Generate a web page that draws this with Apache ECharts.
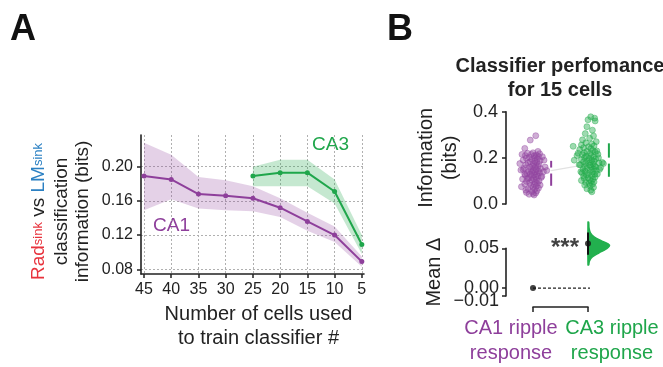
<!DOCTYPE html>
<html><head><meta charset="utf-8">
<script src="https://cdn.jsdelivr.net/npm/echarts@6/dist/echarts.min.js"></script>
<style>html,body{margin:0;padding:0;background:#fff}#c{width:663px;height:367px}</style>
</head><body><div id="c"></div>
<script>
// ---------- Panel A data ----------
const cellCounts = [45, 40, 35, 30, 25, 20, 15, 10, 5];
const ca1Mean  = [0.189, 0.185, 0.168, 0.166, 0.163, 0.152, 0.136, 0.120, 0.089];
const ca1Upper = [0.228, 0.214, 0.188, 0.184, 0.177, 0.163, 0.146, 0.130, 0.095];
const ca1Lower = [0.149, 0.162, 0.151, 0.149, 0.148, 0.141, 0.125, 0.112, 0.083];
const ca3Counts = [25, 20, 15, 10, 5];
const ca3Mean  = [0.189, 0.193, 0.193, 0.171, 0.109];
const ca3Upper = [0.200, 0.208, 0.208, 0.185, 0.120];
const ca3Lower = [0.177, 0.177, 0.177, 0.157, 0.098];
const yTicksA = [0.08, 0.12, 0.16, 0.20];

// ---------- Panel B data (15 cells) ----------
const ca1Values = [
 0.296,0.277,0.241,0.228,0.222,0.220,0.218,0.215,0.212,0.210,
 0.208,0.205,0.203,0.200,0.198,0.196,0.193,0.190,0.188,0.186,
 0.183,0.180,0.178,0.175,0.172,0.170,0.168,0.165,0.163,0.160,
 0.158,0.156,0.153,0.151,0.149,0.147,0.145,0.143,0.141,0.139,
 0.137,0.135,0.132,0.130,0.128,0.126,0.124,0.121,0.119,0.117,
 0.115,0.112,0.110,0.108,0.105,0.103,0.100,0.098,0.095,0.092,
 0.090,0.087,0.085,0.082,0.080,0.077,0.075,0.072,0.069,0.066,
 0.063,0.060,0.057,0.054,0.050,0.048,0.045,0.042,0.039,0.215,
 0.205,0.190,0.175,0.160,0.150,0.140,0.130,0.120,0.110,0.145];
const ca1Jitter = [
 0.05,-0.05,-0.15,0.09,0.00,-0.10,0.12,-0.03,0.06,-0.14,
 0.02,0.10,-0.07,0.04,-0.12,0.08,-0.02,-0.18,0.13,0.03,
 -0.05,0.07,-0.09,0.01,0.11,-0.13,0.05,-0.01,0.09,-0.06,
 0.03,-0.16,0.14,-0.04,0.06,-0.22,0.00,0.10,-0.08,0.04,
 -0.02,0.12,-0.11,0.07,-0.05,0.02,-0.14,0.09,-0.03,0.05,
 0.15,-0.08,0.01,-0.19,0.06,-0.02,0.11,-0.12,0.04,-0.06,
 0.08,-0.15,0.02,0.13,-0.04,0.06,-0.21,0.00,0.10,-0.09,
 0.03,-0.13,0.07,-0.02,-0.12,0.05,0.00,-0.07,0.02,-0.20,
 0.17,0.20,-0.24,0.22,-0.18,0.19,-0.15,0.16,-0.10,0.25];
const ca3Values = [
 0.378,0.372,0.365,0.360,0.335,0.320,0.305,0.295,0.285,0.278,
 0.270,0.265,0.260,0.256,0.252,0.248,0.244,0.240,0.236,0.232,
 0.228,0.225,0.222,0.219,0.216,0.213,0.210,0.207,0.204,0.201,
 0.198,0.195,0.193,0.190,0.188,0.185,0.183,0.180,0.178,0.175,
 0.173,0.170,0.168,0.165,0.163,0.160,0.158,0.155,0.152,0.150,
 0.147,0.144,0.141,0.138,0.135,0.132,0.129,0.126,0.123,0.120,
 0.117,0.114,0.111,0.108,0.105,0.102,0.099,0.096,0.093,0.090,
 0.086,0.082,0.078,0.072,0.066,0.060,0.053,0.250,0.230,0.210,
 0.200,0.190,0.180,0.170,0.160,0.150,0.140,0.130,0.220,0.175];
const ca3Jitter = [
 0.05,0.12,0.00,0.13,-0.02,0.08,-0.05,0.10,0.03,-0.10,
 0.15,-0.04,0.07,-0.12,0.11,0.01,-0.08,0.05,-0.15,0.09,
 -0.02,0.13,-0.07,0.04,0.18,-0.10,0.06,-0.03,0.10,-0.06,
 0.02,0.14,-0.12,0.07,-0.01,0.11,-0.08,0.04,0.20,-0.04,
 0.09,-0.14,0.03,0.12,-0.06,0.06,0.23,-0.02,0.10,-0.09,
 0.04,0.15,-0.05,0.08,-0.11,0.01,0.12,-0.03,0.07,-0.08,
 0.13,0.00,-0.07,0.09,0.03,-0.12,0.06,0.11,-0.04,0.02,
 0.08,-0.06,0.04,0.10,-0.02,0.05,0.07,-0.27,0.16,-0.20,
 0.19,-0.25,0.26,-0.16,0.14,0.21,-0.13,0.17,-0.18,0.28];
// gapped summary bars: [low, middle, high]
const ca1Summary = [0.079, 0.145, 0.187];
const ca3Summary = [0.118, 0.188, 0.263];
// mean difference (CA3 - CA1)
const meanDiff = 0.056;
const diffCI = [0.042, 0.070];
const violinValues  = [0.0829,0.0754,0.0691,0.0641,0.0591,0.0541,0.0491,0.0441,0.0391,0.0341,0.0291];
const violinDensity = [0.03,0.05,0.12,0.30,0.65,1.00,0.85,0.50,0.20,0.07,0.03];
const yTicksDiff = [-0.01, 0, 0.05];
const groupLabels = ['CA1 ripple\nresponse', 'CA3 ripple\nresponse'];

// ---------- styling ----------
const FONT = "'Liberation Sans', Arial, Helvetica, sans-serif";
const PURPLE = '#8e3f9b', GREEN = '#1fa64b', INK = '#222';
const GRIDLINE = { show: true, lineStyle: { color: '#b0b0b0', type: [2, 2], width: 1 } };
const AXLINE = { show: true, onZero: false, lineStyle: { color: INK, width: 1.6 } };

const chart = echarts.init(document.getElementById('c'));

function band(xs, lo, hi, color) {
  return { type: 'custom', xAxisIndex: 0, yAxisIndex: 0, silent: true, z: 1, data: [0],
    renderItem: (params, api) => {
      const pts = [];
      xs.forEach((x, i) => pts.push(api.coord([x, hi[i]])));
      for (let i = xs.length - 1; i >= 0; i--) pts.push(api.coord([xs[i], lo[i]]));
      return { type: 'polygon', shape: { points: pts }, style: { fill: color } };
    } };
}

function gapBar(params, api) {
  const x = api.value(0);
  const pLo = api.coord([x, api.value(1)]);
  const pMid = api.coord([x, api.value(2)]);
  const pHi = api.coord([x, api.value(3)]);
  const gap = 3;
  const st = { stroke: api.visual('color'), lineWidth: 2 };
  return { type: 'group', children: [
    { type: 'line', shape: { x1: pHi[0], y1: pHi[1], x2: pMid[0], y2: pMid[1] - gap }, style: st },
    { type: 'line', shape: { x1: pMid[0], y1: pMid[1] + gap, x2: pLo[0], y2: pLo[1] }, style: st }
  ]};
}

const G = { containLabel: false, outerBoundsMode: 'none' };
const option = {
  animation: false,
  backgroundColor: '#fff',
  textStyle: { fontFamily: FONT },
  title: {
    text: 'Classifier perfomance\nfor 15 cells', left: 560, top: 54, textAlign: 'center', padding: 0,
    textStyle: { fontFamily: FONT, fontSize: 20, fontWeight: 'bold', color: INK, lineHeight: 24 }
  },
  grid: [
    { ...G, left: 141, top: 135, width: 223, height: 139 },
    { ...G, left: 533, top: 111.7, width: 55, height: 92.3 },
    { ...G, left: 533, top: 248.3, width: 55, height: 47.7 },
    { ...G, left: 511, top: 248.3, width: 101, height: 47.7 }   // label track for group names
  ],
  xAxis: [
    { gridIndex: 0, type: 'value', inverse: true, min: 4.6, max: 45.55,
      axisLine: AXLINE, axisTick: { customValues: cellCounts, length: 4, lineStyle: { color: INK, width: 1.5 } },
      axisLabel: { customValues: cellCounts, fontSize: 16, color: INK, margin: 8, fontFamily: FONT },
      splitLine: GRIDLINE,
      name: 'Number of cells used\nto train classifier #', nameLocation: 'middle', nameGap: 28,
      nameTextStyle: { fontSize: 20, lineHeight: 24, color: INK, fontFamily: FONT, padding: [0, 0, 0, 12] } },
    { gridIndex: 1, type: 'value', min: 0, max: 1, show: false },
    { gridIndex: 2, type: 'value', min: 0, max: 1, offset: 11,
      axisLine: AXLINE, axisTick: { customValues: [0, 1], length: 5, lineStyle: { color: INK, width: 1.5 } },
      splitLine: { show: false }, axisLabel: { show: false } },
    { gridIndex: 3, type: 'value', min: 0, max: 1, offset: 11,
      axisLine: { show: false }, axisTick: { show: false }, splitLine: { show: false },
      axisLabel: { customValues: [0, 1], showMinLabel: true, showMaxLabel: true, margin: 9,
        formatter: v => v < 0.5 ? '{a|' + groupLabels[0].replace('\n', '}\n{a|') + '}'
                                : '{b|' + groupLabels[1].replace('\n', '}\n{b|') + '}',
        rich: {
          a: { color: PURPLE, fontSize: 20, lineHeight: 25, fontFamily: FONT },
          b: { color: GREEN, fontSize: 20, lineHeight: 25, fontFamily: FONT }
        } } }
  ],
  yAxis: [
    { gridIndex: 0, type: 'value', min: 0.0745, max: 0.237,
      axisLine: AXLINE, axisTick: { customValues: yTicksA, length: 4, lineStyle: { color: INK, width: 1.5 } },
      axisLabel: { customValues: yTicksA, fontSize: 16, color: INK, margin: 8, fontFamily: FONT, formatter: v => v.toFixed(2) },
      splitLine: GRIDLINE,
      name: '{r|Rad}{rs|sink}{k| vs }{b|LM}{bs|sink}\n{k2|classification}\n{k2|information (bits)}',
      nameLocation: 'middle', nameRotate: 90, nameGap: 48,
      nameTextStyle: { fontSize: 19, color: INK, fontFamily: FONT, padding: [0, 14, 0, 0],
        rich: {
          r:  { color: '#e8323c', fontSize: 19, lineHeight: 20, padding: [4, 0, 8, 0], fontFamily: FONT },
          rs: { color: '#e8323c', fontSize: 13, lineHeight: 14, verticalAlign: 'top', padding: [1, 0, 17, 0], fontFamily: FONT },
          k:  { color: INK, fontSize: 19, lineHeight: 20, padding: [4, 0, 8, 0], fontFamily: FONT },
          b:  { color: '#2b80c3', fontSize: 19, lineHeight: 20, padding: [4, 0, 8, 0], fontFamily: FONT },
          bs: { color: '#2b80c3', fontSize: 13, lineHeight: 14, verticalAlign: 'top', padding: [1, 0, 17, 0], fontFamily: FONT },
          k2: { color: INK, fontSize: 19, lineHeight: 21, fontFamily: FONT }
        } } },
    { gridIndex: 1, type: 'value', position: 'left', min: 0, max: 0.4, interval: 0.2, offset: 27,
      axisLine: AXLINE, axisTick: { length: 4, lineStyle: { color: INK, width: 1.5 } },
      axisLabel: { fontSize: 18, color: INK, margin: 8, fontFamily: FONT, formatter: v => v.toFixed(1) },
      splitLine: { show: false },
      name: 'Information\n(bits)', nameLocation: 'middle', nameRotate: 90, nameGap: 44,
      nameTextStyle: { fontSize: 20, lineHeight: 24, color: INK, fontFamily: FONT } },
    { gridIndex: 2, type: 'value', position: 'left', min: -0.01, max: 0.05, offset: 27,
      axisLine: AXLINE, axisTick: { customValues: yTicksDiff, length: 4, lineStyle: { color: INK, width: 1.5 } },
      axisLabel: { customValues: [0, 0.05], showMinLabel: true, showMaxLabel: true,
        fontSize: 18, color: INK, margin: 7, fontFamily: FONT, formatter: v => v.toFixed(2) },
      splitLine: { show: false },
      name: 'Mean \u0394', nameLocation: 'middle', nameRotate: 90, nameGap: 62,
      nameTextStyle: { fontSize: 20, color: INK, fontFamily: FONT } },
    { gridIndex: 3, type: 'value', position: 'left', min: -0.01, max: 0.05, show: false },
    // second label track for the crowded lowest tick of the Mean Δ axis
    { gridIndex: 2, type: 'value', position: 'left', min: -0.01, max: 0.05, offset: 27,
      axisLine: { show: false }, axisTick: { show: false }, splitLine: { show: false },
      axisLabel: { customValues: [yTicksDiff[0]], showMinLabel: true, fontSize: 18, color: INK, margin: 7, fontFamily: FONT,
        formatter: v => '{lo|' + v.toFixed(2).replace('-', '\u2212') + '}',
        rich: { lo: { fontSize: 18, color: INK, fontFamily: FONT, padding: [10, 0, 0, 0] } } } }
  ],
  graphic: [
    { type: 'text', left: 10, top: 12, style: { text: 'A', font: 'bold 36px ' + FONT, fill: '#111' } },
    { type: 'text', left: 387, top: 12, style: { text: 'B', font: 'bold 36px ' + FONT, fill: '#111' } },
    { type: 'text', left: 312, top: 135, style: { text: 'CA3', font: '19px ' + FONT, fill: GREEN } },
    { type: 'text', left: 153, top: 216, style: { text: 'CA1', font: '19px ' + FONT, fill: PURPLE } }
  ],
  series: [
    band(cellCounts, ca1Lower, ca1Upper, 'rgba(142,63,155,0.24)'),
    band(ca3Counts, ca3Lower, ca3Upper, 'rgba(31,166,75,0.26)'),
    { type: 'line', xAxisIndex: 0, yAxisIndex: 0, data: cellCounts.map((x, i) => [x, ca1Mean[i]]),
      symbol: 'circle', symbolSize: 5, itemStyle: { color: PURPLE }, lineStyle: { color: PURPLE, width: 2 }, z: 3 },
    { type: 'line', xAxisIndex: 0, yAxisIndex: 0, data: ca3Counts.map((x, i) => [x, ca3Mean[i]]),
      symbol: 'circle', symbolSize: 5, itemStyle: { color: GREEN }, lineStyle: { color: GREEN, width: 2 }, z: 3 },

    // Panel B top: connecting line of group centres
    { type: 'line', xAxisIndex: 1, yAxisIndex: 1, clip: false, symbol: 'none', silent: true,
      data: [[0.33, ca1Summary[1]], [1.38, ca3Summary[1]]], lineStyle: { color: '#e2e2e2', width: 1.2 }, z: 1 },
    { type: 'scatter', xAxisIndex: 1, yAxisIndex: 1, clip: false, symbolSize: 6,
      data: ca1Values.map((v, i) => [ca1Jitter[i], v]),
      itemStyle: { color: 'rgba(146,70,160,0.55)', borderColor: 'rgba(146,70,160,0.85)', borderWidth: 0.6 }, z: 2 },
    { type: 'scatter', xAxisIndex: 1, yAxisIndex: 1, clip: false, symbolSize: 6,
      data: ca3Values.map((v, i) => [1 + ca3Jitter[i], v]),
      itemStyle: { color: 'rgba(35,170,75,0.55)', borderColor: 'rgba(35,170,75,0.85)', borderWidth: 0.6 }, z: 2 },
    { type: 'custom', xAxisIndex: 1, yAxisIndex: 1, clip: false, renderItem: gapBar,
      itemStyle: { color: PURPLE }, data: [[0.33, ...ca1Summary]], z: 3 },
    { type: 'custom', xAxisIndex: 1, yAxisIndex: 1, clip: false, renderItem: gapBar,
      itemStyle: { color: GREEN }, data: [[1.38, ...ca3Summary]], z: 3 },

    // Panel B bottom: mean difference
    { type: 'line', xAxisIndex: 2, yAxisIndex: 2, clip: false, symbol: 'none', silent: true,
      data: [[0, 0], [1.22, 0]], lineStyle: { color: INK, width: 1.3, type: [3, 2] }, z: 2 },
    { type: 'custom', xAxisIndex: 2, yAxisIndex: 2, clip: false, z: 2,
      data: [0],
      renderItem: (params, api) => {
        const pts = [];
        violinValues.forEach((v, i) => { pts.push(api.coord([1 + violinDensity[i] * 0.39, v])); });
        pts.push(api.coord([1, violinValues[violinValues.length - 1]]));
        pts.unshift(api.coord([1, violinValues[0]]));
        return { type: 'polygon', shape: { points: pts, smooth: 0.4 }, style: { fill: '#22b04e', stroke: '#22b04e', lineWidth: 1.5 } };
      } },
    { type: 'line', xAxisIndex: 2, yAxisIndex: 2, clip: false, symbol: 'none', silent: true,
      data: [[1, diffCI[0]], [1, diffCI[1]]], lineStyle: { color: '#111', width: 2 }, z: 4 },
    { type: 'scatter', xAxisIndex: 2, yAxisIndex: 2, clip: false, symbolSize: 6,
      data: [[0, 0]], itemStyle: { color: '#111' }, z: 5 },
    { type: 'scatter', xAxisIndex: 2, yAxisIndex: 2, clip: false, symbolSize: 6,
      data: [[1, meanDiff]], itemStyle: { color: '#111' }, z: 5,
      label: { show: true, position: 'left', distance: 6, formatter: '***', fontSize: 24, fontWeight: 'bold', color: '#111', fontFamily: FONT, offset: [0, 5] } }
  ]
};
chart.setOption(option);
</script>
</body></html>
